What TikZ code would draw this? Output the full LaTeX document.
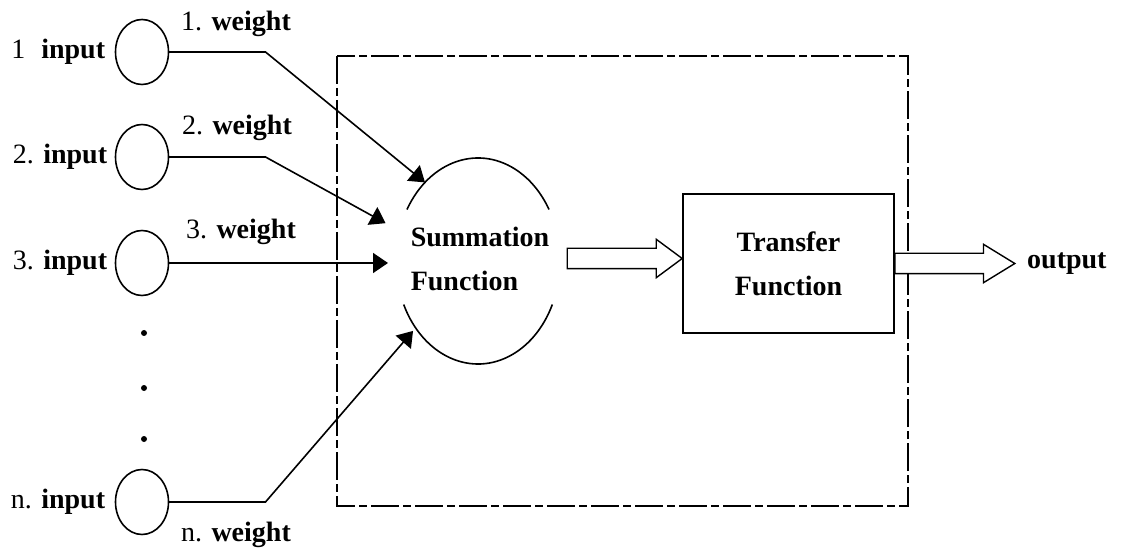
\documentclass[tikz,border=0pt]{standalone}
\usepackage{fontspec}
\setmainfont{Liberation Serif}
\usepackage{tikz}
\usetikzlibrary{positioning, calc, arrows.meta, shapes.geometric, shapes.arrows}
\tikzset{
    inball/.style={
        ellipse,
        draw,
        line width=0.8pt,
        minimum width=26.5pt,
        minimum height=32.5pt,
        inner sep=0pt,
        outer sep=0pt
    },
    lbl/.style={
        font=\fontsize{14}{22}\selectfont,
        inner sep=1pt
    },
    wire/.style={
        line width=0.8pt
    },
    arr/.style={
        wire,
        -{Triangle[length=7.5pt,width=10pt]}
    },
    hollow/.style={
        single arrow,
        draw,
        line width=0.7pt,
        fill=white,
        text height=0pt,
        text depth=0pt,
        inner xsep=0pt,
        inner ysep=4.75pt,
        minimum width=18.5pt,
        single arrow head extend=4.5pt,
        outer sep=0pt
    },
    vdot/.style={
        circle,
        fill,
        inner sep=0pt,
        minimum size=3pt
    },
    cellbox/.style={
        line width=0.7pt,
        dash pattern=on 14pt off 2pt on 4pt off 2pt
    }
}

\begin{document}
\begin{tikzpicture}[x=0.5pt, y=-0.5pt]
    \useasboundingbox (0,0) rectangle (1123,550);

    % neuron frame
    \draw[cellbox] (337,56) rectangle (908,506);

    % inputs
    \node[inball] (in1) at (142,52) {};
    \node[inball] (in2) at (142,157) {};
    \node[inball] (in3) at (142,263) {};
    \node[inball] (inn) at (142,502) {};
    \foreach \y [count=\i] in {333,388,439}
        \node[vdot] (dot\i) at (144,\y) {};

    \node[lbl, left=4pt of in1] (lab1) {1\hspace{8pt}\textbf{input}};
    \node[lbl, left=3pt of in2] (lab2) {2. \textbf{input}};
    \node[lbl, left=3pt of in3] (lab3) {3. \textbf{input}};
    \node[lbl, left=4pt of inn] (labn) {n. \textbf{input}};

    \node[lbl] (w1) at (236,24) {1. \textbf{weight}};
    \node[lbl] (w2) at (237,128) {2. \textbf{weight}};
    \node[lbl] (w3) at (241,232) {3. \textbf{weight}};
    \node[lbl] (wn) at (236,535) {n. \textbf{weight}};

    % summation
    \node[ellipse, minimum width=82pt, minimum height=103pt, inner sep=0pt, outer sep=0pt] (summ) at (478,261) {};
    \node[lbl, align=left] (sumtxt) at (480,259) {\textbf{Summation}\\\textbf{Function}};
    \draw[wire] ([shift={(150:41pt and 51.5pt)}]summ.center) arc[start angle=150, end angle=30, x radius=41pt, y radius=51.5pt];
    \draw[wire] ([shift={(205:41pt and 51.5pt)}]summ.center) arc[start angle=205, end angle=335, x radius=41pt, y radius=51.5pt];

    \coordinate (k1) at ([xshift=48.5pt]in1.east);
    \coordinate (k2) at ([xshift=48.5pt]in2.east);
    \coordinate (kn) at ([xshift=48.5pt]inn.east);

    \draw[arr] (in1.east) -- (k1) -- (summ.124);
    \draw[arr, shorten >=8pt] (in2.east) -- (k2) -- (summ.159);
    \draw[arr, shorten >=4pt] (in3.east) -- (in3.east -| summ.west);
    \draw[arr, shorten >=2pt] (inn.east) -- (kn) -- (summ.227);

    % transfer
    \node[draw, line width=0.8pt, minimum width=105.5pt, minimum height=69.5pt, lbl, align=center] (tfun) at (788.5,263.5) {\textbf{Transfer}\\\textbf{Function}};

    \node[hollow, minimum height=57.5pt, single arrow tip angle=73, anchor=tip] (sarr) at ([yshift=2.5pt]tfun.west) {};
    \node[hollow, minimum height=60pt, single arrow tip angle=63, anchor=tail] (oarr) at (tfun.east) {};
    \node[lbl, right=5pt of oarr.tip] (out) {\textbf{output}};
\end{tikzpicture}
\end{document}
